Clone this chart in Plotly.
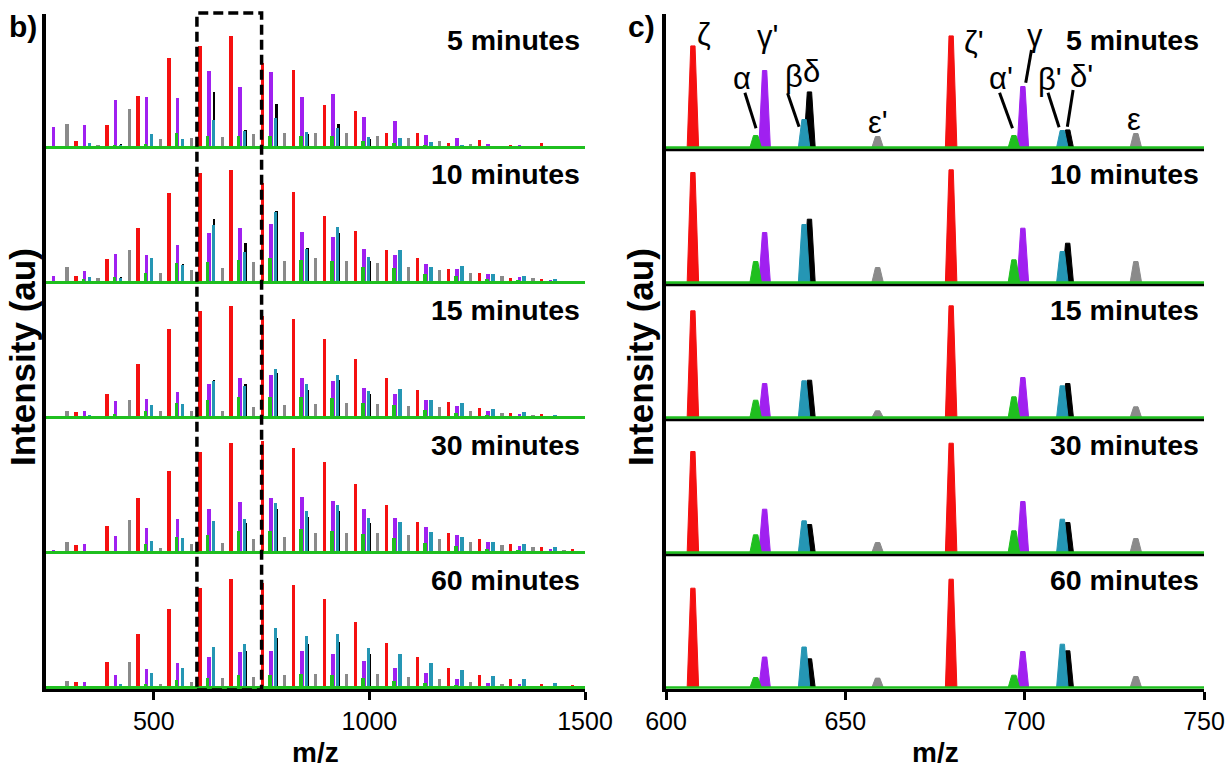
import plotly.graph_objects as go
from plotly.subplots import make_subplots

# ---------------------------------------------------------------------------
# Data: peak positions (m/z) of the six ion series and their intensities (au)
# at each reaction time. Rows of every intensity table follow TIMES.
# ---------------------------------------------------------------------------
TIMES = ["5 minutes", "10 minutes", "15 minutes", "30 minutes", "60 minutes"]

MZ_ZETA = [247.5, 319.5, 391.5, 463.5, 535.5, 607.5, 679.5, 751.5, 823.5,
           895.5, 967.5, 1039.5, 1111.5, 1183.5, 1255.5, 1327.5, 1399.5, 1471.5]
MZ_ALPHA = [265, 337, 409, 481, 553, 625, 697, 769, 841,
            913, 985, 1057, 1129, 1201, 1273, 1345, 1417, 1489]
MZ_GAMMA = [267.5, 339.5, 411.5, 483.5, 555.5, 627.5, 699.5, 771.5, 843.5,
            915.5, 987.5, 1059.5, 1131.5, 1203.5, 1275.5, 1347.5, 1419.5, 1491.5]
MZ_BETA = [278.5, 350.5, 422.5, 494.5, 566.5, 638.5, 710.5, 782.5, 854.5,
           926.5, 998.5, 1070.5, 1142.5, 1214.5, 1286.5, 1358.5, 1430.5, 1502.5]
MZ_DELTA = [280, 352, 424, 496, 568, 640, 712, 784, 856,
            928, 1000, 1072, 1144, 1216, 1288, 1360, 1432, 1504]
MZ_EPSILON = [299, 371, 443, 515, 587, 659, 731, 803, 875,
              947, 1019, 1091, 1163, 1235, 1307, 1379, 1451, 1523]

INT_ZETA = [
    [0, 6.6, 22.6, 51.6, 89.6, 101.6, 111.6, 85, 77.6, 42.3, 36.6, 15, 15, 5, 7.6, 2.3, 5, 1],
    [0, 6.7, 23.7, 54.3, 90, 110, 112.7, 100, 90.3, 66.7, 51.7, 32.7, 25, 13.7, 10, 5, 3.7, 1.5],
    [0, 5.7, 23.3, 53.3, 88.3, 106.7, 111.7, 102, 98.3, 79, 59, 39.7, 27.3, 15.7, 10, 5, 3.3, 1.5],
    [0, 7.3, 26.7, 54.3, 81.7, 101, 109.3, 111.7, 105, 90.7, 69, 47.7, 30.7, 20, 13.3, 9, 6, 4],
    [0, 6, 25.7, 53.3, 79, 99.3, 108.3, 105, 102.3, 88.3, 66, 45, 30.7, 19.3, 12.7, 8.3, 3.3, 2.3],
]
INT_ALPHA = [
    [0, 1.5, 3, 4, 15, 12, 12, 12, 11.7, 11.7, 6.7, 5, 3, 2, 1.5, 1, 0.5, 0.5],
    [0, 4, 6, 9.3, 20, 21, 22.7, 24.3, 22.7, 21.7, 16, 14.3, 9, 6.7, 4, 3, 2, 1],
    [0, 2, 3.3, 6.7, 15, 17.3, 20.7, 21, 20.7, 20, 15, 12.3, 8, 5, 3, 2, 1, 0.5],
    [0, 1.5, 2, 8.3, 15.7, 17.7, 21.7, 21.7, 23.3, 21.7, 19, 15, 10, 6.7, 4, 3, 2, 1],
    [0, 1.5, 2, 4, 7.7, 10, 12.3, 12.3, 13.3, 12.3, 10, 6.7, 5, 3, 2, 1.5, 1, 0.5],
]
INT_GAMMA = [
    [20.6, 23, 48, 50.6, 49.6, 77, 61, 75.6, 51, 54, 30.6, 27, 13, 10, 3.3, 3, 1.5, 1],
    [6.7, 11.7, 28.3, 27.7, 37.7, 50, 54.3, 58.3, 51, 46, 33.3, 27.7, 18.3, 13.7, 8.3, 6, 3, 1.5],
    [1.7, 6.7, 16.7, 19, 25.7, 34, 40, 42.3, 40, 36.7, 29.7, 24, 17.3, 11.7, 6.7, 4, 2, 1],
    [2.3, 9, 16.7, 25, 34, 43.3, 51, 54.3, 56, 51.7, 43.3, 35, 26, 17.7, 11, 6.7, 4, 2],
    [1.5, 6, 12.3, 18.3, 25, 30.5, 36, 36.7, 36.7, 33.3, 26.7, 20, 14.3, 9, 5, 3.3, 2, 1],
]
INT_BETA = [
    [2, 5, 3, 14, 9, 28, 17, 30, 15.7, 20, 10.6, 10, 5.7, 3, 2, 2, 1, 0],
    [1, 6, 5, 25, 17.7, 58, 31, 71, 33.3, 56, 26, 32.7, 16, 16.7, 8.3, 6.7, 3.3, 0],
    [1, 2.3, 2, 12.3, 13.3, 36.7, 31.7, 48.3, 33.3, 43, 27, 29, 17.7, 15, 8.3, 5.7, 3, 0],
    [1, 1.5, 1.5, 11.3, 14.3, 31.7, 33.3, 50, 41.7, 47.3, 35, 30.7, 21, 16, 10.7, 9, 5.7, 0],
    [0.5, 1, 4, 14.3, 20, 40.5, 43.3, 60, 51.7, 53.3, 40, 34, 24.3, 17.7, 11.7, 9, 5, 0],
]
INT_DELTA = [
    [1, 5, 4, 10, 8, 55.6, 17.6, 44, 14, 24, 9, 8, 5, 2.5, 1.5, 1.5, 0.5, 0],
    [1, 4, 6, 20, 18.3, 63.3, 39.3, 71.7, 35, 50, 22, 28, 14, 14, 7, 5.5, 3, 0],
    [1, 2, 2, 10, 11, 37.3, 34, 45, 28, 38, 24, 25, 15, 13, 7, 5, 2.5, 0],
    [0.5, 1, 1, 9, 12, 28, 30, 44, 36, 42, 30, 26, 18, 14, 9, 7.5, 4.5, 0],
    [0.5, 1, 3, 12, 16, 28.7, 36.7, 50, 44, 46, 34, 29, 20, 15, 10, 7.5, 4, 0],
]
INT_EPSILON = [
    [24, 3, 39, 9, 9.7, 11, 14, 15, 15, 15, 11.6, 9.6, 6.6, 4, 2, 1, 1, 0],
    [16, 4.3, 32.7, 9.3, 12.7, 15, 21, 22, 24.3, 21.7, 20, 16, 12.7, 9.3, 7, 4.3, 2, 0],
    [6.7, 1.7, 17.7, 6.7, 6.7, 6.7, 10.7, 12.7, 14, 14.3, 14, 11.7, 10.7, 6.7, 4.3, 2.7, 1.5, 0],
    [11, 1.5, 32.3, 5, 8.3, 10, 14, 16, 19.3, 20, 20, 17.7, 14, 11, 7.7, 5.7, 3, 0],
    [6.7, 1, 25.7, 3.3, 5.7, 9.4, 11, 12.3, 13.3, 14, 13.3, 11, 8.3, 5.7, 3.3, 2, 1, 0],
]

# drawing order: later series sit in front of earlier ones; last value = stick width
SERIES = [
    ("epsilon", MZ_EPSILON, INT_EPSILON, "#8a8a8a", 8),
    ("zeta", MZ_ZETA, INT_ZETA, "#f51010", 8),
    ("gamma", MZ_GAMMA, INT_GAMMA, "#a020f0", 8),
    ("alpha", MZ_ALPHA, INT_ALPHA, "#1fbf1f", 8),
    ("delta", MZ_DELTA, INT_DELTA, "#000000", 6),
    ("beta", MZ_BETA, INT_BETA, "#2596b4", 8),
]

FULL_RANGE = [250, 1500]
ZOOM_RANGE = [600, 750]
Y_RANGE = [-1.5, 133.5]

FONT = "Liberation Sans, Arial, sans-serif"
BASE_GREEN = "#1fbf1f"

W, H = 1231, 773
ML, MR, MT, MB = 46, 27, 14, 84
PW, PH = W - ML - MR, H - MT - MB


def px_x(x):
    return (x - ML) / PW


def px_y(y):
    return (H - MB - y) / PH


fig = make_subplots(rows=5, cols=2, vertical_spacing=0, horizontal_spacing=0.07)

LEFT_DOM = [0, px_x(585)]
RIGHT_DOM = [px_x(666), 1.0]


def peak_outline(mz, heights, lo, hi, half_base=1.6, half_top=0.6):
    xs, ys = [], []
    for c, h in zip(mz, heights):
        if h <= 0 or c < lo or c > hi:
            continue
        xs += [c - half_base, c - half_top, c + half_top, c + half_base, c - half_base, None]
        ys += [0, h, h, 0, 0, None]
    return xs, ys


for r in range(5):
    row = r + 1
    # full spectrum: stick bars
    for name, mz, tab, col, wid in SERIES:
        fig.add_trace(go.Bar(x=mz, y=tab[r], width=wid, marker=dict(color=col, line=dict(width=0)),
                             showlegend=False, hoverinfo="skip", name=name), row=row, col=1)
    fig.add_trace(go.Scatter(x=FULL_RANGE, y=[0, 0], mode="lines",
                             line=dict(color=BASE_GREEN, width=3), showlegend=False,
                             hoverinfo="skip"), row=row, col=1)
    # zoomed window: peak profiles
    for name, mz, tab, col, _ in SERIES:
        xs, ys = peak_outline(mz, tab[r], *ZOOM_RANGE)
        fig.add_trace(go.Scatter(x=xs, y=ys, mode="lines", fill="toself", fillcolor=col,
                                 line=dict(color=col, width=1), showlegend=False,
                                 hoverinfo="skip", name=name), row=row, col=2)
    fig.add_trace(go.Scatter(x=ZOOM_RANGE, y=[0, 0], mode="lines",
                             line=dict(color=BASE_GREEN, width=2.5), showlegend=False,
                             hoverinfo="skip"), row=row, col=2)

# axes
for r in range(5):
    row = r + 1
    dom = [1 - (r + 1) / 5, 1 - r / 5]
    bottom = row == 5
    for c in (1, 2):
        fig.update_yaxes(row=row, col=c, domain=dom, range=Y_RANGE, showline=True,
                         linecolor="black", linewidth=4, showticklabels=False, ticks="",
                         showgrid=False, zeroline=False, automargin=False)
    fig.update_xaxes(row=row, col=1, domain=LEFT_DOM, range=FULL_RANGE, showgrid=False,
                     zeroline=False, showline=bottom, linecolor="black", linewidth=3,
                     showticklabels=bottom, ticks="outside" if bottom else "",
                     tickvals=[500, 1000, 1500], ticklen=8, tickwidth=3, tickcolor="black",
                     tickfont=dict(family=FONT, size=25, color="black"), automargin=False)
    fig.update_xaxes(row=row, col=2, domain=RIGHT_DOM, range=ZOOM_RANGE, showgrid=False,
                     zeroline=False, showline=bottom, linecolor="black", linewidth=3,
                     showticklabels=bottom, ticks="outside" if bottom else "",
                     tickvals=[600, 650, 700, 750], ticklen=8, tickwidth=3, tickcolor="black",
                     tickfont=dict(family=FONT, size=25, color="black"), automargin=False)

annotations = []
shapes = []
for r, label in enumerate(TIMES):
    for k in (2 * r + 1, 2 * r + 2):
        ax = "" if k == 1 else str(k)
        annotations.append(dict(text=f"<b>{label}</b>", xref=f"x{ax} domain", yref=f"y{ax}",
                                x=0.995, y=108, xanchor="right", yanchor="middle", showarrow=False,
                                font=dict(family=FONT, size=28.5, color="black")))
    if r < 4:
        k = 2 * r + 2
        # black frame line under each zoomed panel's baseline
        shapes.append(dict(type="line", xref=f"x{k} domain", yref=f"y{k} domain", x0=0, x1=1,
                           y0=-0.006, y1=-0.006, line=dict(color="black", width=3), layer="below"))

# ion labels in the top zoomed panel
GREEK = [
    ("ζ", 610.5, 113), ("γ'", 628.2, 111), ("α", 621.1, 69), ("β", 635.7, 71),
    ("δ", 640.5, 76), ("ε'", 659.1, 25), ("ζ'", 686.0, 105), ("γ", 702.8, 112),
    ("α'", 693.5, 69), ("β'", 707.2, 68), ("δ'", 715.8, 71), ("ε", 730.4, 28),
]
for txt, gx, gy in GREEK:
    annotations.append(dict(text=txt, xref="x2", yref="y2", x=gx, y=gy, showarrow=False,
                            xanchor="center", yanchor="middle",
                            font=dict(family=FONT, size=31, color="black")))

LEADERS = [
    (622.0, 54.8, 625.1, 19.2), (633.9, 54.2, 637.1, 20.8), (693.0, 54.8, 696.6, 19.2),
    (701.9, 97.5, 700.3, 64.8), (706.5, 54.8, 709.6, 20.2), (713.5, 57.5, 711.9, 20.8),
]
for x0, y0, x1, y1 in LEADERS:
    shapes.append(dict(type="line", xref="x2", yref="y2", x0=x0, y0=y0, x1=x1, y1=y1,
                       line=dict(color="black", width=3)))

# dashed box marking the zoomed m/z window
shapes.append(dict(type="rect", xref="x", yref="paper", x0=ZOOM_RANGE[0], x1=ZOOM_RANGE[1],
                   y0=px_y(690), y1=px_y(13), line=dict(color="black", width=3.5, dash="10px,5px"),
                   layer="above"))

for xpx, tag in ((23, "b)"), (641, "c)")):
    annotations.append(dict(text=f"<b>{tag}</b>", xref="paper", yref="paper", x=px_x(xpx),
                            y=px_y(26), showarrow=False, xanchor="center", yanchor="middle",
                            font=dict(family=FONT, size=30, color="black")))
for xpx in (22, 640):
    annotations.append(dict(text="<b>Intensity (au)</b>", xref="paper", yref="paper",
                            x=px_x(xpx), y=px_y(357), textangle=-90, showarrow=False,
                            xanchor="center", yanchor="middle",
                            font=dict(family=FONT, size=35, color="black")))
for xpx in (315, 935):
    annotations.append(dict(text="<b>m/z</b>", xref="paper", yref="paper", x=px_x(xpx),
                            y=px_y(752), showarrow=False, xanchor="center", yanchor="middle",
                            font=dict(family=FONT, size=28, color="black")))

fig.update_layout(width=W, height=H, autosize=False, margin=dict(l=ML, r=MR, t=MT, b=MB),
                  paper_bgcolor="white", plot_bgcolor="rgba(0,0,0,0)", barmode="overlay",
                  bargap=0, showlegend=False, annotations=annotations, shapes=shapes,
                  font=dict(family=FONT, color="black"))

fig.write_html("out.html", config={"responsive": False})
